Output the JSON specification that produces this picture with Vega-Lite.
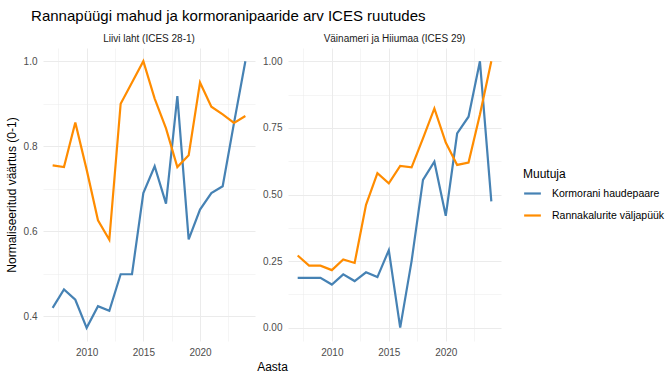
{
  "$schema": "https://vega.github.io/schema/vega-lite/v6.json",
  "background": "white",
  "padding": {"left": 5, "top": 9, "right": 5, "bottom": 5},
  "bounds": "flush",
  "title": {"text": "Rannapüügi mahud ja kormoranipaaride arv ICES ruutudes", "anchor": "start", "fontSize": 15, "fontWeight": "normal", "font": "Liberation Sans", "color": "#000000", "offset": 10, "dx": 26},
  "config": {
    "font": "Liberation Sans",
    "view": {"stroke": null},
    "axis": {"domain": false, "ticks": false, "labelColor": "#4D4D4D", "labelFontSize": 10, "titleColor": "#000000", "titleFontSize": 12, "titleFontWeight": "normal", "gridColor": "#EBEBEB"},
    "legend": {"titleFontSize": 12, "titleFontWeight": "normal", "titleColor": "#000000", "labelFontSize": 10.5, "labelColor": "#000000"}
  },
  "data": {"values": [
    {"region": "Liivi laht (ICES 28-1)", "year": 2007, "var": "Kormorani haudepaare", "value": 0.420},
    {"region": "Liivi laht (ICES 28-1)", "year": 2008, "var": "Kormorani haudepaare", "value": 0.463},
    {"region": "Liivi laht (ICES 28-1)", "year": 2009, "var": "Kormorani haudepaare", "value": 0.439},
    {"region": "Liivi laht (ICES 28-1)", "year": 2010, "var": "Kormorani haudepaare", "value": 0.373},
    {"region": "Liivi laht (ICES 28-1)", "year": 2011, "var": "Kormorani haudepaare", "value": 0.424},
    {"region": "Liivi laht (ICES 28-1)", "year": 2012, "var": "Kormorani haudepaare", "value": 0.413},
    {"region": "Liivi laht (ICES 28-1)", "year": 2013, "var": "Kormorani haudepaare", "value": 0.499},
    {"region": "Liivi laht (ICES 28-1)", "year": 2014, "var": "Kormorani haudepaare", "value": 0.499},
    {"region": "Liivi laht (ICES 28-1)", "year": 2015, "var": "Kormorani haudepaare", "value": 0.690},
    {"region": "Liivi laht (ICES 28-1)", "year": 2016, "var": "Kormorani haudepaare", "value": 0.753},
    {"region": "Liivi laht (ICES 28-1)", "year": 2017, "var": "Kormorani haudepaare", "value": 0.665},
    {"region": "Liivi laht (ICES 28-1)", "year": 2018, "var": "Kormorani haudepaare", "value": 0.918},
    {"region": "Liivi laht (ICES 28-1)", "year": 2019, "var": "Kormorani haudepaare", "value": 0.581},
    {"region": "Liivi laht (ICES 28-1)", "year": 2020, "var": "Kormorani haudepaare", "value": 0.651},
    {"region": "Liivi laht (ICES 28-1)", "year": 2021, "var": "Kormorani haudepaare", "value": 0.690},
    {"region": "Liivi laht (ICES 28-1)", "year": 2022, "var": "Kormorani haudepaare", "value": 0.706},
    {"region": "Liivi laht (ICES 28-1)", "year": 2023, "var": "Kormorani haudepaare", "value": 0.855},
    {"region": "Liivi laht (ICES 28-1)", "year": 2024, "var": "Kormorani haudepaare", "value": 1.000},
    {"region": "Liivi laht (ICES 28-1)", "year": 2007, "var": "Rannakalurite väljapüük", "value": 0.755},
    {"region": "Liivi laht (ICES 28-1)", "year": 2008, "var": "Rannakalurite väljapüük", "value": 0.751},
    {"region": "Liivi laht (ICES 28-1)", "year": 2009, "var": "Rannakalurite väljapüük", "value": 0.856},
    {"region": "Liivi laht (ICES 28-1)", "year": 2010, "var": "Rannakalurite väljapüük", "value": 0.745},
    {"region": "Liivi laht (ICES 28-1)", "year": 2011, "var": "Rannakalurite väljapüük", "value": 0.626},
    {"region": "Liivi laht (ICES 28-1)", "year": 2012, "var": "Rannakalurite väljapüük", "value": 0.580},
    {"region": "Liivi laht (ICES 28-1)", "year": 2013, "var": "Rannakalurite väljapüük", "value": 0.900},
    {"region": "Liivi laht (ICES 28-1)", "year": 2014, "var": "Rannakalurite väljapüük", "value": 0.950},
    {"region": "Liivi laht (ICES 28-1)", "year": 2015, "var": "Rannakalurite väljapüük", "value": 1.000},
    {"region": "Liivi laht (ICES 28-1)", "year": 2016, "var": "Rannakalurite väljapüük", "value": 0.912},
    {"region": "Liivi laht (ICES 28-1)", "year": 2017, "var": "Rannakalurite väljapüük", "value": 0.842},
    {"region": "Liivi laht (ICES 28-1)", "year": 2018, "var": "Rannakalurite väljapüük", "value": 0.751},
    {"region": "Liivi laht (ICES 28-1)", "year": 2019, "var": "Rannakalurite väljapüük", "value": 0.779},
    {"region": "Liivi laht (ICES 28-1)", "year": 2020, "var": "Rannakalurite väljapüük", "value": 0.950},
    {"region": "Liivi laht (ICES 28-1)", "year": 2021, "var": "Rannakalurite väljapüük", "value": 0.893},
    {"region": "Liivi laht (ICES 28-1)", "year": 2022, "var": "Rannakalurite väljapüük", "value": 0.875},
    {"region": "Liivi laht (ICES 28-1)", "year": 2023, "var": "Rannakalurite väljapüük", "value": 0.855},
    {"region": "Liivi laht (ICES 28-1)", "year": 2024, "var": "Rannakalurite väljapüük", "value": 0.871},
    {"region": "Väinameri ja Hiiumaa (ICES 29)", "year": 2007, "var": "Kormorani haudepaare", "value": 0.187},
    {"region": "Väinameri ja Hiiumaa (ICES 29)", "year": 2008, "var": "Kormorani haudepaare", "value": 0.187},
    {"region": "Väinameri ja Hiiumaa (ICES 29)", "year": 2009, "var": "Kormorani haudepaare", "value": 0.187},
    {"region": "Väinameri ja Hiiumaa (ICES 29)", "year": 2010, "var": "Kormorani haudepaare", "value": 0.162},
    {"region": "Väinameri ja Hiiumaa (ICES 29)", "year": 2011, "var": "Kormorani haudepaare", "value": 0.200},
    {"region": "Väinameri ja Hiiumaa (ICES 29)", "year": 2012, "var": "Kormorani haudepaare", "value": 0.175},
    {"region": "Väinameri ja Hiiumaa (ICES 29)", "year": 2013, "var": "Kormorani haudepaare", "value": 0.208},
    {"region": "Väinameri ja Hiiumaa (ICES 29)", "year": 2014, "var": "Kormorani haudepaare", "value": 0.190},
    {"region": "Väinameri ja Hiiumaa (ICES 29)", "year": 2015, "var": "Kormorani haudepaare", "value": 0.291},
    {"region": "Väinameri ja Hiiumaa (ICES 29)", "year": 2016, "var": "Kormorani haudepaare", "value": 0.000},
    {"region": "Väinameri ja Hiiumaa (ICES 29)", "year": 2017, "var": "Kormorani haudepaare", "value": 0.250},
    {"region": "Väinameri ja Hiiumaa (ICES 29)", "year": 2018, "var": "Kormorani haudepaare", "value": 0.555},
    {"region": "Väinameri ja Hiiumaa (ICES 29)", "year": 2019, "var": "Kormorani haudepaare", "value": 0.623},
    {"region": "Väinameri ja Hiiumaa (ICES 29)", "year": 2020, "var": "Kormorani haudepaare", "value": 0.420},
    {"region": "Väinameri ja Hiiumaa (ICES 29)", "year": 2021, "var": "Kormorani haudepaare", "value": 0.729},
    {"region": "Väinameri ja Hiiumaa (ICES 29)", "year": 2022, "var": "Kormorani haudepaare", "value": 0.792},
    {"region": "Väinameri ja Hiiumaa (ICES 29)", "year": 2023, "var": "Kormorani haudepaare", "value": 1.000},
    {"region": "Väinameri ja Hiiumaa (ICES 29)", "year": 2024, "var": "Kormorani haudepaare", "value": 0.474},
    {"region": "Väinameri ja Hiiumaa (ICES 29)", "year": 2007, "var": "Rannakalurite väljapüük", "value": 0.271},
    {"region": "Väinameri ja Hiiumaa (ICES 29)", "year": 2008, "var": "Rannakalurite väljapüük", "value": 0.233},
    {"region": "Väinameri ja Hiiumaa (ICES 29)", "year": 2009, "var": "Rannakalurite väljapüük", "value": 0.233},
    {"region": "Väinameri ja Hiiumaa (ICES 29)", "year": 2010, "var": "Rannakalurite väljapüük", "value": 0.216},
    {"region": "Väinameri ja Hiiumaa (ICES 29)", "year": 2011, "var": "Rannakalurite väljapüük", "value": 0.256},
    {"region": "Väinameri ja Hiiumaa (ICES 29)", "year": 2012, "var": "Rannakalurite väljapüük", "value": 0.243},
    {"region": "Väinameri ja Hiiumaa (ICES 29)", "year": 2013, "var": "Rannakalurite väljapüük", "value": 0.461},
    {"region": "Väinameri ja Hiiumaa (ICES 29)", "year": 2014, "var": "Rannakalurite väljapüük", "value": 0.580},
    {"region": "Väinameri ja Hiiumaa (ICES 29)", "year": 2015, "var": "Rannakalurite väljapüük", "value": 0.542},
    {"region": "Väinameri ja Hiiumaa (ICES 29)", "year": 2016, "var": "Rannakalurite väljapüük", "value": 0.607},
    {"region": "Väinameri ja Hiiumaa (ICES 29)", "year": 2017, "var": "Rannakalurite väljapüük", "value": 0.602},
    {"region": "Väinameri ja Hiiumaa (ICES 29)", "year": 2018, "var": "Rannakalurite väljapüük", "value": 0.711},
    {"region": "Väinameri ja Hiiumaa (ICES 29)", "year": 2019, "var": "Rannakalurite väljapüük", "value": 0.823},
    {"region": "Väinameri ja Hiiumaa (ICES 29)", "year": 2020, "var": "Rannakalurite väljapüük", "value": 0.695},
    {"region": "Väinameri ja Hiiumaa (ICES 29)", "year": 2021, "var": "Rannakalurite väljapüük", "value": 0.611},
    {"region": "Väinameri ja Hiiumaa (ICES 29)", "year": 2022, "var": "Rannakalurite väljapüük", "value": 0.620},
    {"region": "Väinameri ja Hiiumaa (ICES 29)", "year": 2023, "var": "Rannakalurite väljapüük", "value": 0.800},
    {"region": "Väinameri ja Hiiumaa (ICES 29)", "year": 2024, "var": "Rannakalurite väljapüük", "value": 1.000}
  ]},
  "spacing": 33,
  "hconcat": [
    {
      "width": 212, "height": 293,
      "title": {"text": "Liivi laht (ICES 28-1)", "fontSize": 10, "fontWeight": "normal", "color": "#1A1A1A", "anchor": "middle", "offset": 4},
      "transform": [{"filter": "datum.region == 'Liivi laht (ICES 28-1)'"}],
      "mark": {"type": "line", "strokeWidth": 2.2},
      "encoding": {
        "x": {"field": "year", "type": "quantitative", "scale": {"domain": [2006.15, 2024.85], "nice": false, "zero": false},
          "axis": {"values": [2007.5, 2010, 2012.5, 2015, 2017.5, 2020, 2022.5], "labelExpr": "datum.value % 5 == 0 ? datum.value : ''", "gridWidth": {"condition": {"test": "datum.value % 5 != 0", "value": 0.5}, "value": 1}, "labelPadding": 6, "title": "Aasta", "titleX": 229, "titleAlign": "center", "titlePadding": 4}},
        "y": {"field": "value", "type": "quantitative", "scale": {"domain": [0.342, 1.031], "nice": false, "zero": false},
          "axis": {"values": [0.4, 0.5, 0.6, 0.7, 0.8, 0.9, 1.0], "labelExpr": "indexof([0.5,0.7,0.9], datum.value) >= 0 ? '' : format(datum.value, '.1f')", "gridWidth": {"condition": {"test": "indexof([0.5,0.7,0.9], datum.value) >= 0", "value": 0.5}, "value": 1}, "labelPadding": 6, "title": "Normaliseeritud väärtus (0-1)", "titlePadding": 5}},
        "color": {"field": "var", "type": "nominal", "scale": {"domain": ["Kormorani haudepaare", "Rannakalurite väljapüük"], "range": ["#4682B4", "#FF8C00"]},
          "legend": {"title": "Muutuja", "orient": "none", "legendX": 480, "legendY": 121, "symbolType": "stroke", "symbolStrokeWidth": 2.2, "symbolSize": 280, "rowPadding": 7, "titlePadding": 3, "labelOffset": 10}}
      }
    },
    {
      "width": 213, "height": 293,
      "title": {"text": "Väinameri ja Hiiumaa (ICES 29)", "fontSize": 10, "fontWeight": "normal", "color": "#1A1A1A", "anchor": "middle", "offset": 4},
      "transform": [{"filter": "datum.region == 'Väinameri ja Hiiumaa (ICES 29)'"}],
      "mark": {"type": "line", "strokeWidth": 2.2},
      "encoding": {
        "x": {"field": "year", "type": "quantitative", "scale": {"domain": [2006.15, 2024.85], "nice": false, "zero": false},
          "axis": {"values": [2007.5, 2010, 2012.5, 2015, 2017.5, 2020, 2022.5], "labelExpr": "datum.value % 5 == 0 ? datum.value : ''", "gridWidth": {"condition": {"test": "datum.value % 5 != 0", "value": 0.5}, "value": 1}, "labelPadding": 6, "title": null}},
        "y": {"field": "value", "type": "quantitative", "scale": {"domain": [-0.05, 1.05], "nice": false, "zero": false},
          "axis": {"values": [0, 0.125, 0.25, 0.375, 0.5, 0.625, 0.75, 0.875, 1.0], "labelExpr": "indexof([0.125,0.375,0.625,0.875], datum.value) >= 0 ? '' : format(datum.value, '.2f')", "gridWidth": {"condition": {"test": "indexof([0.125,0.375,0.625,0.875], datum.value) >= 0", "value": 0.5}, "value": 1}, "labelPadding": 6, "title": null}},
        "color": {"field": "var", "type": "nominal"}
      }
    }
  ]
}
